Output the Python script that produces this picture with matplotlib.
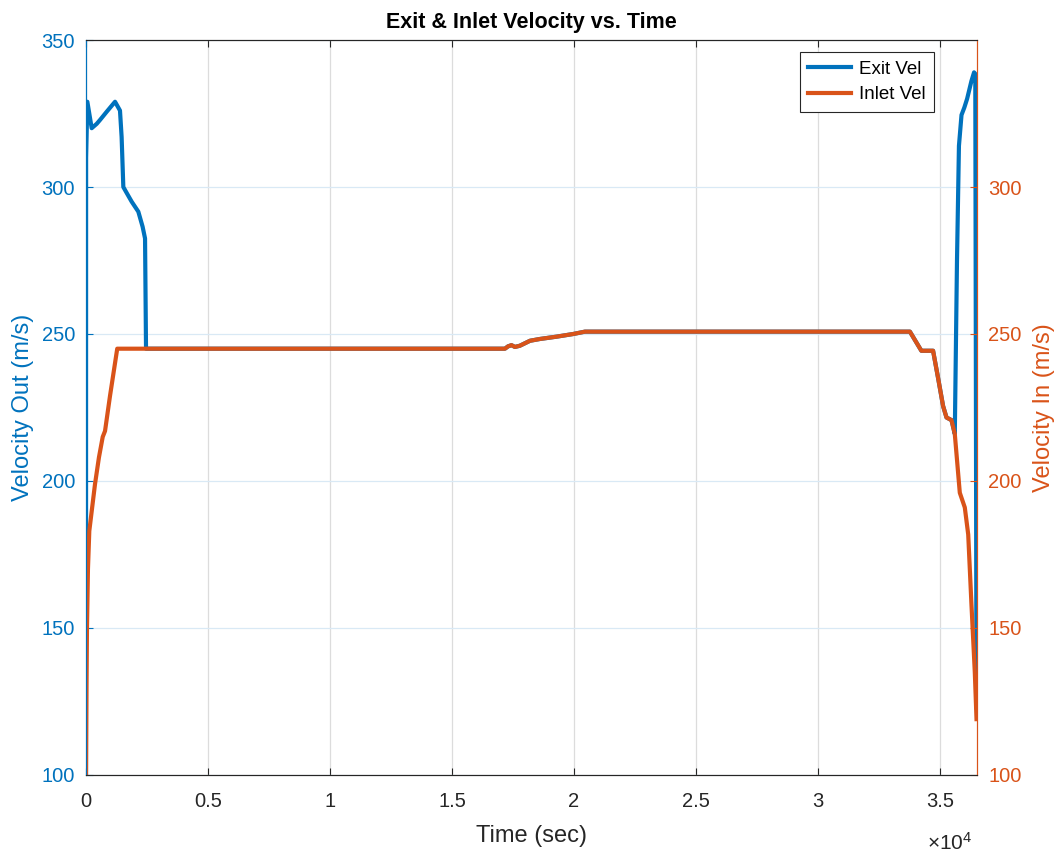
import matplotlib
matplotlib.use('Agg')
import matplotlib.pyplot as plt
import matplotlib.ticker as mticker
import numpy as np

plt.rcParams['font.family'] = ['Liberation Sans', 'DejaVu Sans']
plt.rcParams['mathtext.fontset'] = 'custom'
plt.rcParams['mathtext.rm'] = 'Liberation Sans'

# ---- data ----
inlet_t = [0, 20, 40, 80, 135, 370, 530, 685, 780, 985, 1280,
           17170, 17300, 17440, 17580, 17780, 18200, 18600, 19290, 19970, 20450,
           33770, 34240, 34720, 34930, 35130, 35270, 35475, 35610, 35815,
           36020, 36160, 36290, 36430, 36500]
inlet_v = [100, 130, 150, 170, 183, 199, 208, 215, 217, 229, 245,
           245, 245.8, 246.2, 245.6, 246.0, 247.7, 248.3, 249.1, 250.0, 250.8,
           250.8, 244.3, 244.3, 234.8, 225.5, 221.6, 220.7, 216, 196,
           191, 181.8, 158.5, 135, 119]

exit_start_t = [0, 5, 55, 233, 440, 574, 848, 1190, 1393, 1460, 1530, 1666,
                1873, 2145, 2320, 2420, 2460]
exit_start_v = [100, 310, 329, 320, 321.5, 322.8, 325.6, 329, 326, 317, 300, 298,
                295, 291.6, 286.5, 282.5, 245]
exit_end_t = [35700, 35780, 35885, 36000, 36115, 36290, 36400, 36450, 36500]
exit_end_v = [275, 314, 324.5, 327, 330, 336, 339, 338.5, 123]

# exit velocity follows the inlet velocity during cruise (hidden under it)
it = np.array(inlet_t, dtype=float)
iv = np.array(inlet_v, dtype=float)
mid = (it > exit_start_t[-1]) & (it < exit_end_t[0])
exit_t = np.concatenate([exit_start_t, it[mid], exit_end_t])
exit_v = np.concatenate([exit_start_v, iv[mid], exit_end_v])

blue = '#0072BD'
orange = '#D95319'
dark = '#262626'

fig = plt.figure(figsize=(10.62, 8.56), dpi=100)
ax = fig.add_axes([0.08098, 0.09463, 0.83898, 0.85864])
ax2 = ax.twinx()

l1, = ax.plot(exit_t, exit_v, color=blue, linewidth=3, label='Exit Vel')
l2, = ax2.plot(it, iv, color=orange, linewidth=3, label='Inlet Vel')

ax.set_xlim(0, 36520)
ax.set_ylim(100, 350)
ax2.set_ylim(100, 350)

ax.set_xticks(np.arange(0, 35001, 5000))
ax.xaxis.set_major_formatter(mticker.FuncFormatter(lambda v, p: f"{v/1e4:g}"))
ax.set_yticks([100, 150, 200, 250, 300, 350])
ax2.set_yticks([100, 150, 200, 250, 300])

# grid: vertical grey, horizontal light blue (left axis)
ax.xaxis.grid(True, color='#dcdcdc', linewidth=0.9)
ax.yaxis.grid(True, color='#d9e9f5', linewidth=0.9)
ax.set_axisbelow(True)

ax.tick_params(axis='x', direction='in', top=True, length=5, width=0.8,
               colors=dark, labelsize=14.5, pad=12)
ax.tick_params(axis='y', direction='in', length=5, width=0.8,
               colors=blue, labelsize=14.5, pad=8, right=False)
ax2.tick_params(axis='y', direction='in', length=5, width=0.8,
                colors=orange, labelsize=14.5, pad=8, left=False)

for a in (ax, ax2):
    a.spines['left'].set_color(blue)
    a.spines['right'].set_color(orange)
    a.spines['top'].set_color(dark)
    a.spines['bottom'].set_color(dark)
    for s in a.spines.values():
        s.set_linewidth(0.8)

ax.set_xlabel('Time (sec)', fontsize=17, color=dark)
ax.set_ylabel('Velocity Out (m/s)', fontsize=17, color=blue)
ax2.set_ylabel('Velocity In (m/s)', fontsize=17, color=orange)
ax.xaxis.set_label_coords(0.5, -0.068)
ax.yaxis.set_label_coords(-0.058, 0.5)
ax2.yaxis.set_label_coords(1.063, 0.5)

ax.set_title('Exit & Inlet Velocity vs. Time', fontsize=15.5, fontweight='bold',
             color='black', pad=9)

fig.text(0.8945, 0.0152, r'$\times\mathregular{10^{4}}$', fontsize=15,
         color=dark, ha='center', va='center')

leg = ax2.legend(handles=[l1, l2], loc='upper right',
                 bbox_to_anchor=(0.9517, 0.9837), borderaxespad=0,
                 fontsize=13.5, fancybox=False, framealpha=1, edgecolor=dark,
                 handlelength=2.3, handletextpad=0.4, borderpad=0.45,
                 labelspacing=0.45)
leg.get_frame().set_linewidth(0.8)

plt.savefig('out.png', dpi=100)
print("Chart saved to: out.png")
